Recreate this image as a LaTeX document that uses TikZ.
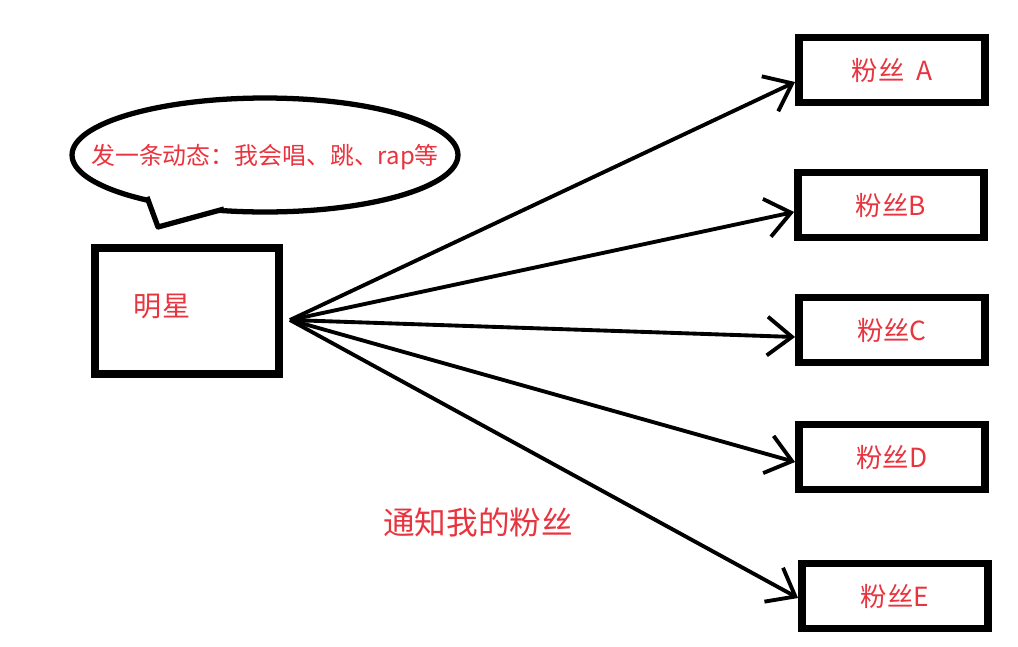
\documentclass[tikz,border=0pt]{standalone}
\usepackage{fontspec}
\setmainfont{Noto Sans CJK SC}
\usepackage{tikz}
\usetikzlibrary{shapes.geometric,arrows.meta,positioning}
\definecolor{notered}{RGB}{232,52,62}

\begin{document}
\begin{tikzpicture}[
    x=0.02cm, y=-0.02cm,
    label/.style={text=notered, font=\fontsize{15}{18}\selectfont},
    starbox/.style={rectangle, draw, line width=4.5pt, minimum width=3.68cm, minimum height=2.52cm},
    fanbox/.style={rectangle, draw, line width=4.5pt, minimum width=3.72cm, minimum height=1.30cm, label},
    bubble/.style={ellipse, draw, line width=3pt, inner sep=0pt, minimum width=7.72cm, minimum height=2.28cm},
    line/.style={draw, line width=2.2pt, -{Straight Barb[length=14pt, width=22pt, line width=2.2pt]}}
]
\useasboundingbox (0,0) rectangle (1018,646);

% Speech bubble
\node [bubble] (bubble) at (265,155) {};
\fill [white] (146,196) -- (158,227) -- (225,208) -- (225,200) -- cycle;
\draw [line width=3pt, line join=round] (147,197) -- (158,227) -- (224,209);
\node [label, font=\fontsize{13.6}{16}\selectfont] (news) at (265,157) {发一条动态：我会唱、跳、rap等};

% Star
\node [starbox] (star) at (187,311) {};
\node [label, font=\fontsize{16}{19}\selectfont] (starname) at (162,306) {明星};
\coordinate (src) at (290,320);

% Fans
\node [fanbox] (fanA) at (892,70) {粉丝\ \ A};
\node [fanbox] (fanB) at (891,205) {粉丝B};
\node [fanbox] (fanC) at (892,330) {粉丝C};
\node [fanbox] (fanD) at (892,457) {粉丝D};
\node [fanbox] (fanE) at (895,596) {粉丝E};

% Notifications
\path [line] (src) -- ([yshift=-0.24cm]fanA.west);
\path [line] (src) -- ([yshift=-0.14cm]fanB.west);
\path [line] (src) -- ([yshift=-0.14cm]fanC.west);
\path [line] (src) -- ([yshift=-0.10cm]fanD.west);
\path [line] (src) -- ([yshift=-0.04cm]fanE.west);

\node [label, font=\fontsize{18}{21}\selectfont] (notify) at (478,522) {通知我的粉丝};

\end{tikzpicture}
\end{document}
